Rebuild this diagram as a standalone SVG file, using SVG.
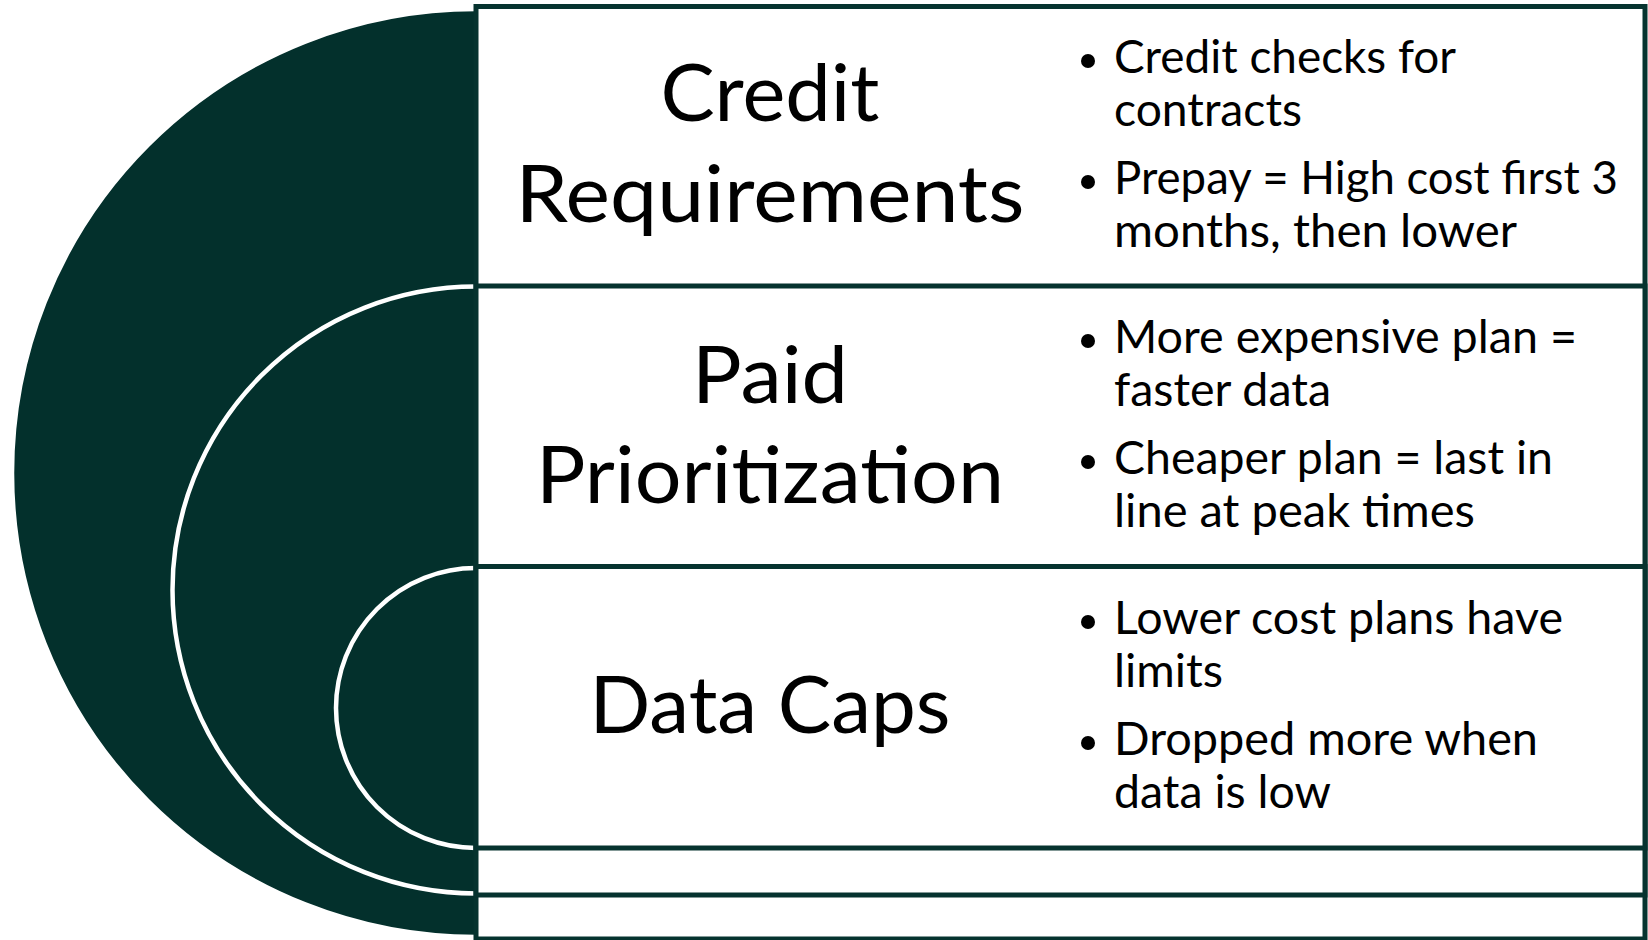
<svg xmlns="http://www.w3.org/2000/svg" width="1648" height="940" viewBox="0 0 1648 940">
  <style>
    .ring { fill: #03302c; stroke: #ffffff; stroke-width: 4.5; }
    .panel { fill: #ffffff; stroke: #06332f; stroke-width: 5; }
    .title { font-family: Lato, "Liberation Sans", sans-serif; font-size: 80px; fill: #000000; text-anchor: middle; }
    .item { font-family: Lato, "Liberation Sans", sans-serif; font-size: 45.5px; fill: #000000; }
    .dot { fill: #000000; }
  </style>

  <rect width="1648" height="940" fill="#ffffff"/>

  <!-- nested target rings -->
  <g id="rings">
    <circle class="ring" cx="476" cy="473" r="464" stroke="none"/>
    <circle class="ring" cx="476" cy="590" r="303.5"/>
    <circle class="ring" cx="476" cy="708" r="140"/>
  </g>

  <g id="node-credit">
    <rect class="panel" x="476" y="6.5" width="1169" height="932.5"/>
    <text class="title" x="770" y="121" textLength="219" lengthAdjust="spacingAndGlyphs">Credit</text>
    <text class="title" x="770" y="222" textLength="509" lengthAdjust="spacingAndGlyphs">Requirements</text>
    <circle class="dot" cx="1088" cy="61" r="7"/>
    <text class="item" x="1114" y="73" textLength="342" lengthAdjust="spacingAndGlyphs">Credit checks for</text>
    <text class="item" x="1114" y="126" textLength="188" lengthAdjust="spacingAndGlyphs">contracts</text>
    <circle class="dot" cx="1088" cy="182" r="7"/>
    <text class="item" x="1114" y="194" textLength="504" lengthAdjust="spacingAndGlyphs">Prepay = High cost first 3</text>
    <text class="item" x="1114" y="247" textLength="403" lengthAdjust="spacingAndGlyphs">months, then lower</text>
  </g>

  <g id="node-paid">
    <rect class="panel" x="476" y="286" width="1169" height="609"/>
    <text class="title" x="770" y="402.5" textLength="156" lengthAdjust="spacingAndGlyphs">Paid</text>
    <text class="title" x="770" y="502.5" textLength="468" lengthAdjust="spacingAndGlyphs">Prioritization</text>
    <circle class="dot" cx="1088" cy="341" r="7"/>
    <text class="item" x="1114" y="353" textLength="463" lengthAdjust="spacingAndGlyphs">More expensive plan =</text>
    <text class="item" x="1114" y="406" textLength="217" lengthAdjust="spacingAndGlyphs">faster data</text>
    <circle class="dot" cx="1088" cy="462" r="7"/>
    <text class="item" x="1114" y="474" textLength="439" lengthAdjust="spacingAndGlyphs">Cheaper plan = last in</text>
    <text class="item" x="1114" y="527" textLength="361" lengthAdjust="spacingAndGlyphs">line at peak times</text>
  </g>

  <g id="node-data">
    <rect class="panel" x="476" y="566.5" width="1169" height="281.5"/>
    <text class="title" x="770" y="733" textLength="361" lengthAdjust="spacingAndGlyphs">Data Caps</text>
    <circle class="dot" cx="1088" cy="622" r="7"/>
    <text class="item" x="1114" y="634" textLength="449" lengthAdjust="spacingAndGlyphs">Lower cost plans have</text>
    <text class="item" x="1114" y="687" textLength="109" lengthAdjust="spacingAndGlyphs">limits</text>
    <circle class="dot" cx="1088" cy="743" r="7"/>
    <text class="item" x="1114" y="755" textLength="424" lengthAdjust="spacingAndGlyphs">Dropped more when</text>
    <text class="item" x="1114" y="808" textLength="217" lengthAdjust="spacingAndGlyphs">data is low</text>
  </g>
</svg>
